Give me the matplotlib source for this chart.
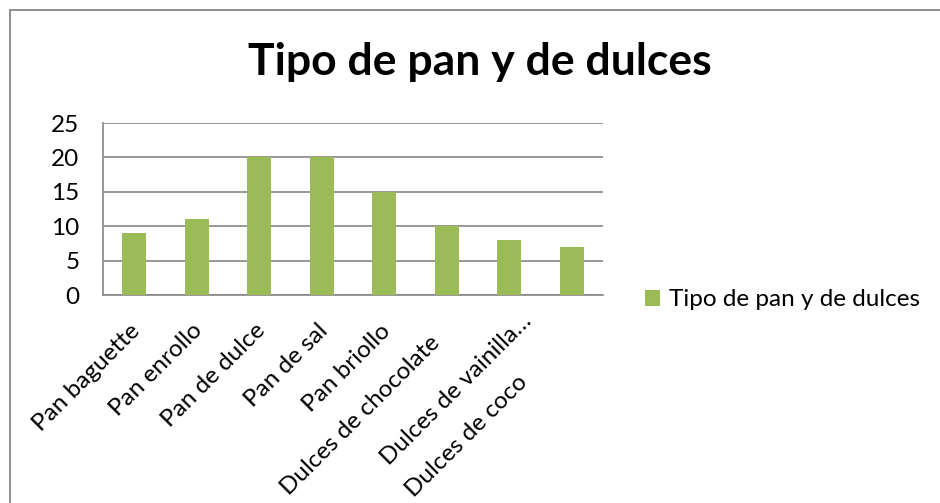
import matplotlib.pyplot as plt
from matplotlib.patches import Rectangle

categorias = ['Pan baguette', 'Pan enrollo', 'Pan de dulce', 'Pan de sal', 'Pan briollo',
              'Dulces de chocolate', 'Dulces de vainilla…', 'Dulces de coco']
valores = [9, 11, 20, 20, 15, 10, 8, 7]
serie = 'Tipo de pan y de dulces'

# how Excel nudged some of the rotated labels along their direction (pixels, +x right, +y up)
desplaz = [(0, 0), (0, 0), (0, 0), (0, 0), (0, 0), (-13, -12), (16, 10), (-50, -51)]

plt.rcParams['font.family'] = ['Lato', 'DejaVu Sans']

W, H = 940, 503
fig = plt.figure(figsize=(W / 100, H / 100), dpi=100)
fig.patch.set_facecolor('white')

# chart frame (cut off at right and bottom like the screenshot)
fig.add_artist(Rectangle((10 / W, -0.1), 1.1, 1 - 10 / H + 0.1, transform=fig.transFigure,
                         fill=False, edgecolor='#868686', linewidth=1.3))

ax = fig.add_axes([103 / W, 1 - 295 / H, 500 / W, (295 - 123) / H])
x = range(len(categorias))
ax.bar(x, valores, width=0.38, color='#9BBB59', label=serie, zorder=3)

ax.set_xlim(-0.5, len(categorias) - 0.5)
ax.set_ylim(0, 25)
ax.set_yticks([0, 5, 10, 15, 20, 25])
ax.yaxis.grid(True, color='#868686', linewidth=1.2, zorder=0)

for s in ['top', 'right']:
    ax.spines[s].set_visible(False)
for s in ['left', 'bottom']:
    ax.spines[s].set_color('#868686')
    ax.spines[s].set_linewidth(1.2)

ax.tick_params(axis='y', length=0, pad=17, labelsize=17.5)
ax.set_xticks(list(x))
ax.set_xticklabels([])
ax.tick_params(axis='x', length=0)

for i, lab in enumerate(categorias):
    dx, dy = desplaz[i]
    ax.annotate(lab, xy=(i, 0), xycoords='data', xytext=(-5 + dx, -25 + dy),
                textcoords='offset pixels', rotation=45, rotation_mode='anchor',
                ha='right', va='top', fontsize=17.5, annotation_clip=False)

fig.text(480 / W, 1 - 62 / H, 'Tipo de pan y de dulces', ha='center', va='center',
         fontsize=32, fontweight='bold')

ax.legend(loc='center left', bbox_to_anchor=(645 / W, 1 - 300 / H), bbox_transform=fig.transFigure,
          frameon=False, fontsize=17.5, handlelength=0.6, handleheight=0.6, handletextpad=0.4,
          borderaxespad=0, borderpad=0)

fig.savefig('out.png', dpi=100)
